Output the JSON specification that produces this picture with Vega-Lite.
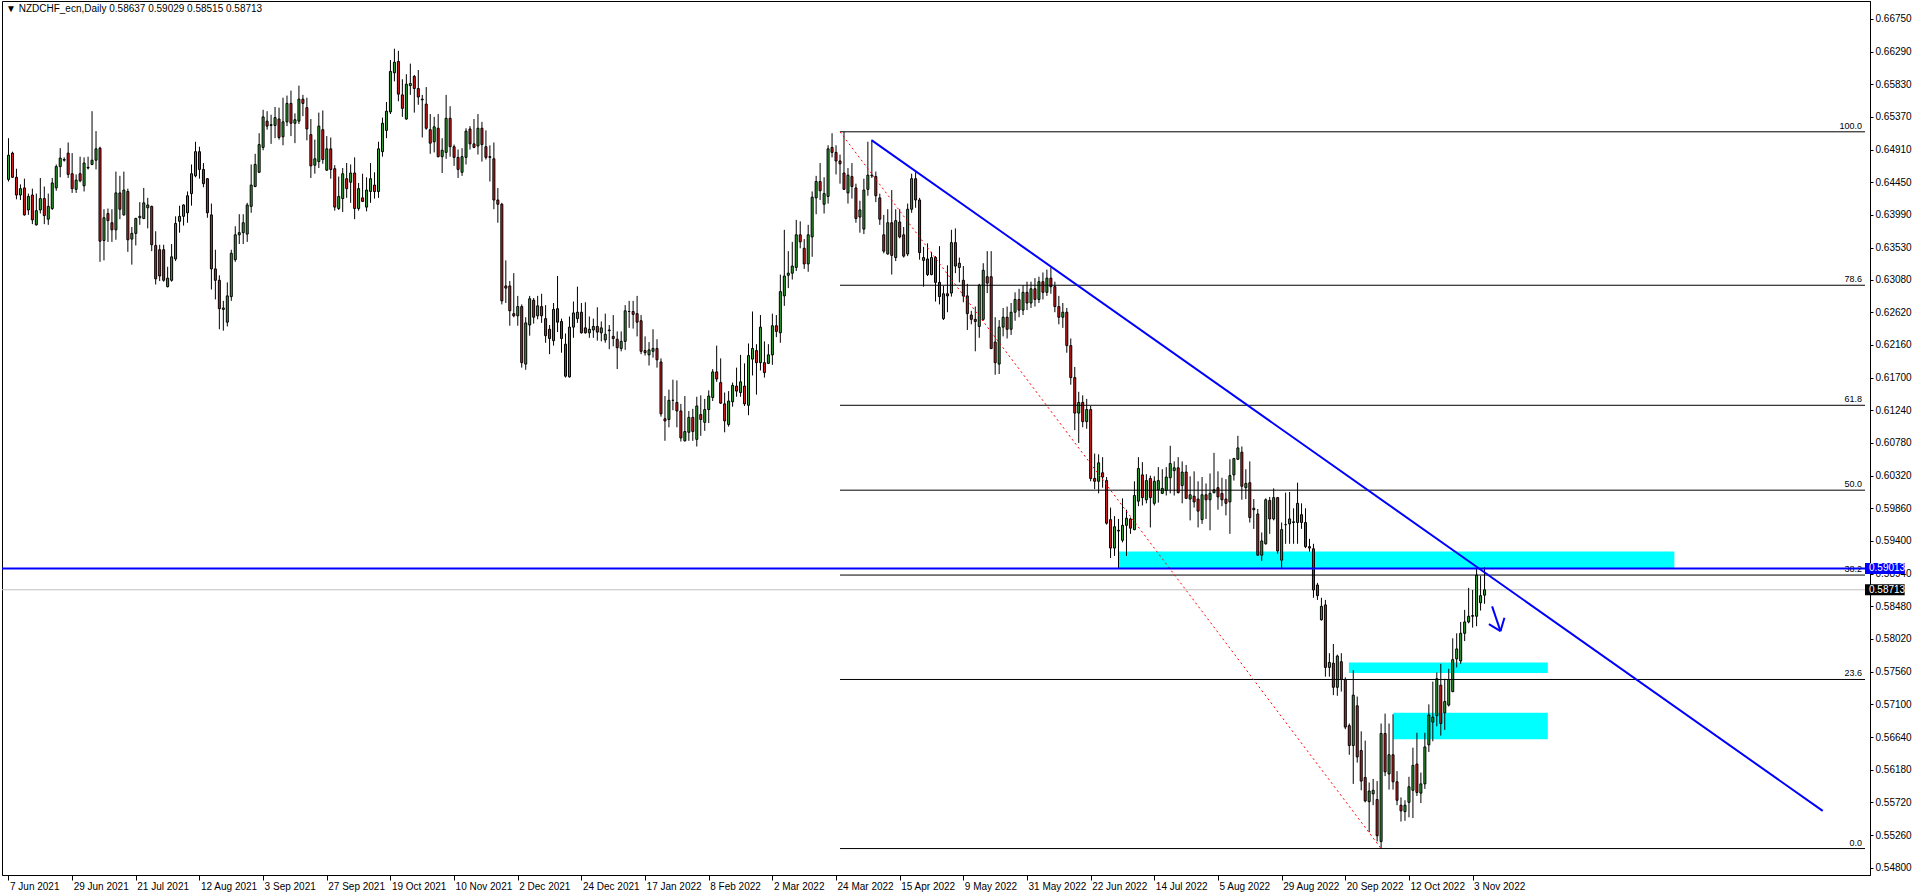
{
"$schema":"https://vega.github.io/schema/vega-lite/v6.json",
"width":1868,"height":874,
"autosize":{"type":"none"},
"padding":{"left":2,"top":1,"right":46,"bottom":21},
"background":"white",
"title":{"text":"▼ NZDCHF_ecn,Daily  0.58637 0.59029 0.58515 0.58713","anchor":"start","frame":"group","orient":"top","offset":-13,"dx":4,"fontSize":10,"font":"Liberation Sans","fontWeight":"normal","color":"black"},
"config":{"view":{"stroke":"black","strokeWidth":1},"axis":{"grid":false,"domainColor":"black","tickColor":"black","labelColor":"black","labelFont":"Liberation Sans","labelFontSize":10,"labelOverlap":false,"labelBound":false,"labelSeparation":0,"tickCount":60}},
"layer":[
{"data":{"values":[{"n":280,"n2":419.7,"p":0.59013,"p2":0.5925},{"n":337.9,"n2":387.9,"p":0.5754,"p2":0.5769},{"n":349.1,"n2":387.9,"p":0.5661,"p2":0.5698}]},
 "mark":{"type":"rect","color":"#00ffff"},
 "encoding":{"x":{"field":"n","type":"quantitative","title":null,"scale":{"domain":[0.625,467.625]}},"x2":{"field":"n2"},
 "y":{"field":"p","type":"quantitative","title":null,"scale":{"domain":[0.54768,0.66931]}},"y2":{"field":"p2"}}},
{"data":{"values":[{"p":0.58713}]},
 "mark":{"type":"rule","color":"#c0c0c0","strokeWidth":1},
 "encoding":{"y":{"field":"p","type":"quantitative","title":null,"scale":{"domain":[0.54768,0.66931]}}}},
{"data":{"values":[
{"o":0.6449,"h":0.6507,"l":0.6446,"c":0.6483},{"o":0.6486,"h":0.6488,"l":0.6451,"c":0.6452},{"o":0.6452,"h":0.6464,"l":0.6421,"c":0.6427},{"o":0.6427,"h":0.6442,"l":0.6420,"c":0.6436},{"o":0.6437,"h":0.6450,"l":0.6398,"c":0.6399},
{"o":0.6406,"h":0.6429,"l":0.6399,"c":0.6425},{"o":0.6427,"h":0.6436,"l":0.6386,"c":0.6392},{"o":0.6385,"h":0.6429,"l":0.6384,"c":0.6405},{"o":0.6406,"h":0.6451,"l":0.6401,"c":0.6422},{"o":0.6422,"h":0.6439,"l":0.6386,"c":0.6398},
{"o":0.6393,"h":0.6429,"l":0.6385,"c":0.6411},{"o":0.6408,"h":0.6451,"l":0.6406,"c":0.6444},{"o":0.6437,"h":0.6470,"l":0.6433,"c":0.6467},{"o":0.6467,"h":0.6493,"l":0.6452,"c":0.6479},{"o":0.6476,"h":0.6480,"l":0.6474,"c":0.6477},
{"o":0.6486,"h":0.6501,"l":0.6451,"c":0.6456},{"o":0.6457,"h":0.6486,"l":0.6430,"c":0.6436},{"o":0.6435,"h":0.6456,"l":0.6430,"c":0.6448},{"o":0.6457,"h":0.6481,"l":0.6445,"c":0.6447},{"o":0.6440,"h":0.6480,"l":0.6432,"c":0.6472},
{"o":0.6466,"h":0.6481,"l":0.6463,"c":0.6465},{"o":0.6470,"h":0.6545,"l":0.6469,"c":0.6476},{"o":0.6476,"h":0.6517,"l":0.6463,"c":0.6492},{"o":0.6493,"h":0.6495,"l":0.6333,"c":0.6362},{"o":0.6363,"h":0.6407,"l":0.6335,"c":0.6395},
{"o":0.6401,"h":0.6408,"l":0.6361,"c":0.6391},{"o":0.6388,"h":0.6407,"l":0.6361,"c":0.6378},{"o":0.6378,"h":0.6460,"l":0.6364,"c":0.6430},{"o":0.6430,"h":0.6454,"l":0.6393,"c":0.6407},{"o":0.6399,"h":0.6460,"l":0.6398,"c":0.6434},
{"o":0.6432,"h":0.6436,"l":0.6347,"c":0.6364},{"o":0.6365,"h":0.6382,"l":0.6329,"c":0.6373},{"o":0.6373,"h":0.6395,"l":0.6356,"c":0.6394},{"o":0.6395,"h":0.6417,"l":0.6385,"c":0.6397},{"o":0.6394,"h":0.6437,"l":0.6393,"c":0.6416},
{"o":0.6409,"h":0.6423,"l":0.6380,"c":0.6413},{"o":0.6411,"h":0.6412,"l":0.6348,"c":0.6357},{"o":0.6356,"h":0.6376,"l":0.6301,"c":0.6309},{"o":0.6350,"h":0.6357,"l":0.6306,"c":0.6313},{"o":0.6350,"h":0.6357,"l":0.6305,"c":0.6307},
{"o":0.6298,"h":0.6326,"l":0.6297,"c":0.6310},{"o":0.6307,"h":0.6358,"l":0.6305,"c":0.6340},{"o":0.6337,"h":0.6397,"l":0.6334,"c":0.6387},{"o":0.6390,"h":0.6412,"l":0.6374,"c":0.6397},{"o":0.6397,"h":0.6414,"l":0.6384,"c":0.6413},
{"o":0.6402,"h":0.6432,"l":0.6388,"c":0.6426},{"o":0.6429,"h":0.6470,"l":0.6412,"c":0.6457},{"o":0.6454,"h":0.6502,"l":0.6452,"c":0.6488},{"o":0.6488,"h":0.6495,"l":0.6450,"c":0.6463},{"o":0.6463,"h":0.6472,"l":0.6438,"c":0.6443},
{"o":0.6450,"h":0.6451,"l":0.6395,"c":0.6402},{"o":0.6399,"h":0.6415,"l":0.6294,"c":0.6323},{"o":0.6323,"h":0.6350,"l":0.6280,"c":0.6307},{"o":0.6307,"h":0.6314,"l":0.6238,"c":0.6267},{"o":0.6266,"h":0.6278,"l":0.6236,"c":0.6268},
{"o":0.6248,"h":0.6304,"l":0.6242,"c":0.6285},{"o":0.6284,"h":0.6350,"l":0.6278,"c":0.6345},{"o":0.6336,"h":0.6383,"l":0.6333,"c":0.6371},{"o":0.6371,"h":0.6400,"l":0.6358,"c":0.6374},{"o":0.6374,"h":0.6400,"l":0.6358,"c":0.6388},
{"o":0.6372,"h":0.6416,"l":0.6361,"c":0.6413},{"o":0.6411,"h":0.6470,"l":0.6402,"c":0.6441},{"o":0.6439,"h":0.6485,"l":0.6438,"c":0.6470},{"o":0.6459,"h":0.6514,"l":0.6458,"c":0.6498},{"o":0.6494,"h":0.6547,"l":0.6490,"c":0.6537},
{"o":0.6531,"h":0.6545,"l":0.6519,"c":0.6524},{"o":0.6525,"h":0.6540,"l":0.6499,"c":0.6526},{"o":0.6525,"h":0.6551,"l":0.6507,"c":0.6536},{"o":0.6534,"h":0.6550,"l":0.6505,"c":0.6508},{"o":0.6509,"h":0.6564,"l":0.6497,"c":0.6530},
{"o":0.6530,"h":0.6567,"l":0.6524,"c":0.6556},{"o":0.6556,"h":0.6574,"l":0.6510,"c":0.6528},{"o":0.6528,"h":0.6542,"l":0.6500,"c":0.6533},{"o":0.6531,"h":0.6581,"l":0.6527,"c":0.6562},{"o":0.6562,"h":0.6568,"l":0.6538,"c":0.6556},
{"o":0.6550,"h":0.6564,"l":0.6504,"c":0.6520},{"o":0.6512,"h":0.6534,"l":0.6451,"c":0.6468},{"o":0.6469,"h":0.6505,"l":0.6457,"c":0.6478},{"o":0.6474,"h":0.6543,"l":0.6465,"c":0.6524},{"o":0.6519,"h":0.6546,"l":0.6471,"c":0.6477},
{"o":0.6462,"h":0.6510,"l":0.6461,"c":0.6492},{"o":0.6492,"h":0.6508,"l":0.6450,"c":0.6463},{"o":0.6464,"h":0.6469,"l":0.6405,"c":0.6410},{"o":0.6408,"h":0.6453,"l":0.6406,"c":0.6425},{"o":0.6422,"h":0.6465,"l":0.6403,"c":0.6457},
{"o":0.6450,"h":0.6472,"l":0.6423,"c":0.6436},{"o":0.6445,"h":0.6470,"l":0.6416,"c":0.6458},{"o":0.6458,"h":0.6480,"l":0.6393,"c":0.6408},{"o":0.6408,"h":0.6444,"l":0.6405,"c":0.6436},{"o":0.6423,"h":0.6457,"l":0.6417,"c":0.6418},
{"o":0.6410,"h":0.6452,"l":0.6404,"c":0.6434},{"o":0.6432,"h":0.6472,"l":0.6416,"c":0.6450},{"o":0.6441,"h":0.6459,"l":0.6422,"c":0.6432},{"o":0.6432,"h":0.6502,"l":0.6423,"c":0.6492},{"o":0.6488,"h":0.6536,"l":0.6481,"c":0.6528},
{"o":0.6518,"h":0.6558,"l":0.6507,"c":0.6545},{"o":0.6544,"h":0.6617,"l":0.6541,"c":0.6601},{"o":0.6599,"h":0.6633,"l":0.6587,"c":0.6614},{"o":0.6615,"h":0.6630,"l":0.6559,"c":0.6569},{"o":0.6568,"h":0.6590,"l":0.6537,"c":0.6549},
{"o":0.6534,"h":0.6597,"l":0.6533,"c":0.6583},{"o":0.6581,"h":0.6612,"l":0.6568,"c":0.6584},{"o":0.6594,"h":0.6596,"l":0.6543,"c":0.6577},{"o":0.6577,"h":0.6603,"l":0.6554,"c":0.6565},{"o":0.6561,"h":0.6568,"l":0.6508,"c":0.6562},
{"o":0.6555,"h":0.6579,"l":0.6519,"c":0.6521},{"o":0.6519,"h":0.6541,"l":0.6485,"c":0.6500},{"o":0.6502,"h":0.6537,"l":0.6487,"c":0.6523},{"o":0.6521,"h":0.6541,"l":0.6480,"c":0.6481},{"o":0.6481,"h":0.6507,"l":0.6458,"c":0.6490},
{"o":0.6487,"h":0.6568,"l":0.6478,"c":0.6535},{"o":0.6535,"h":0.6552,"l":0.6481,"c":0.6495},{"o":0.6495,"h":0.6498,"l":0.6468,"c":0.6480},{"o":0.6480,"h":0.6491,"l":0.6451,"c":0.6463},{"o":0.6459,"h":0.6493,"l":0.6454,"c":0.6481},
{"o":0.6480,"h":0.6521,"l":0.6470,"c":0.6517},{"o":0.6520,"h":0.6524,"l":0.6491,"c":0.6499},{"o":0.6499,"h":0.6534,"l":0.6493,"c":0.6494},{"o":0.6496,"h":0.6541,"l":0.6484,"c":0.6521},{"o":0.6521,"h":0.6530,"l":0.6474,"c":0.6498},
{"o":0.6495,"h":0.6518,"l":0.6477,"c":0.6480},{"o":0.6481,"h":0.6497,"l":0.6446,"c":0.6480},{"o":0.6478,"h":0.6501,"l":0.6407,"c":0.6420},{"o":0.6420,"h":0.6437,"l":0.6388,"c":0.6414},{"o":0.6414,"h":0.6416,"l":0.6273,"c":0.6278},
{"o":0.6299,"h":0.6335,"l":0.6275,"c":0.6296},{"o":0.6299,"h":0.6306,"l":0.6243,"c":0.6264},{"o":0.6260,"h":0.6317,"l":0.6255,"c":0.6257},{"o":0.6257,"h":0.6285,"l":0.6243,"c":0.6270},{"o":0.6270,"h":0.6273,"l":0.6184,"c":0.6191},
{"o":0.6189,"h":0.6255,"l":0.6181,"c":0.6247},{"o":0.6244,"h":0.6285,"l":0.6229,"c":0.6281},{"o":0.6279,"h":0.6282,"l":0.6246,"c":0.6255},{"o":0.6257,"h":0.6285,"l":0.6252,"c":0.6271},{"o":0.6270,"h":0.6288,"l":0.6247,"c":0.6257},
{"o":0.6253,"h":0.6272,"l":0.6219,"c":0.6229},{"o":0.6238,"h":0.6244,"l":0.6203,"c":0.6225},{"o":0.6222,"h":0.6275,"l":0.6215,"c":0.6266},{"o":0.6267,"h":0.6313,"l":0.6234,"c":0.6248},{"o":0.6249,"h":0.6253,"l":0.6205,"c":0.6225},
{"o":0.6217,"h":0.6232,"l":0.6170,"c":0.6172},{"o":0.6171,"h":0.6256,"l":0.6170,"c":0.6241},{"o":0.6241,"h":0.6277,"l":0.6226,"c":0.6261},{"o":0.6253,"h":0.6298,"l":0.6247,"c":0.6262},{"o":0.6262,"h":0.6275,"l":0.6232,"c":0.6233},
{"o":0.6240,"h":0.6276,"l":0.6232,"c":0.6233},{"o":0.6233,"h":0.6256,"l":0.6226,"c":0.6238},{"o":0.6237,"h":0.6253,"l":0.6226,"c":0.6242},{"o":0.6242,"h":0.6269,"l":0.6222,"c":0.6234},{"o":0.6233,"h":0.6249,"l":0.6221,"c":0.6240},
{"o":0.6223,"h":0.6260,"l":0.6219,"c":0.6231},{"o":0.6236,"h":0.6244,"l":0.6210,"c":0.6237},{"o":0.6228,"h":0.6258,"l":0.6214,"c":0.6225},{"o":0.6224,"h":0.6235,"l":0.6182,"c":0.6212},{"o":0.6211,"h":0.6235,"l":0.6207,"c":0.6221},
{"o":0.6221,"h":0.6272,"l":0.6209,"c":0.6264},{"o":0.6263,"h":0.6278,"l":0.6240,"c":0.6263},{"o":0.6263,"h":0.6278,"l":0.6239,"c":0.6259},{"o":0.6260,"h":0.6285,"l":0.6228,"c":0.6248},{"o":0.6250,"h":0.6258,"l":0.6203,"c":0.6207},
{"o":0.6208,"h":0.6228,"l":0.6201,"c":0.6205},{"o":0.6202,"h":0.6220,"l":0.6187,"c":0.6209},{"o":0.6207,"h":0.6238,"l":0.6198,"c":0.6211},{"o":0.6211,"h":0.6224,"l":0.6184,"c":0.6195},{"o":0.6192,"h":0.6197,"l":0.6115,"c":0.6119},
{"o":0.6112,"h":0.6144,"l":0.6081,"c":0.6109},{"o":0.6111,"h":0.6153,"l":0.6100,"c":0.6138},{"o":0.6138,"h":0.6167,"l":0.6124,"c":0.6138},{"o":0.6135,"h":0.6166,"l":0.6100,"c":0.6123},{"o":0.6123,"h":0.6133,"l":0.6080,"c":0.6085},
{"o":0.6081,"h":0.6144,"l":0.6080,"c":0.6094},{"o":0.6093,"h":0.6123,"l":0.6081,"c":0.6114},{"o":0.6114,"h":0.6126,"l":0.6081,"c":0.6094},{"o":0.6083,"h":0.6143,"l":0.6073,"c":0.6130},{"o":0.6118,"h":0.6145,"l":0.6088,"c":0.6111},
{"o":0.6107,"h":0.6140,"l":0.6095,"c":0.6125},{"o":0.6125,"h":0.6152,"l":0.6106,"c":0.6144},{"o":0.6142,"h":0.6182,"l":0.6137,"c":0.6178},{"o":0.6178,"h":0.6215,"l":0.6164,"c":0.6168},{"o":0.6163,"h":0.6197,"l":0.6133,"c":0.6134},
{"o":0.6133,"h":0.6149,"l":0.6093,"c":0.6109},{"o":0.6104,"h":0.6151,"l":0.6101,"c":0.6137},{"o":0.6136,"h":0.6163,"l":0.6129,"c":0.6159},{"o":0.6158,"h":0.6184,"l":0.6143,"c":0.6151},{"o":0.6149,"h":0.6202,"l":0.6143,"c":0.6164},
{"o":0.6158,"h":0.6190,"l":0.6130,"c":0.6133},{"o":0.6131,"h":0.6218,"l":0.6117,"c":0.6201},{"o":0.6196,"h":0.6263,"l":0.6173,"c":0.6211},{"o":0.6208,"h":0.6217,"l":0.6146,"c":0.6191},{"o":0.6191,"h":0.6258,"l":0.6180,"c":0.6241},
{"o":0.6191,"h":0.6221,"l":0.6170,"c":0.6177},{"o":0.6190,"h":0.6217,"l":0.6189,"c":0.6202},{"o":0.6202,"h":0.6260,"l":0.6188,"c":0.6243},{"o":0.6243,"h":0.6258,"l":0.6227,"c":0.6235},{"o":0.6233,"h":0.6315,"l":0.6219,"c":0.6291},
{"o":0.6285,"h":0.6378,"l":0.6271,"c":0.6313},{"o":0.6314,"h":0.6348,"l":0.6296,"c":0.6317},{"o":0.6317,"h":0.6361,"l":0.6308,"c":0.6327},{"o":0.6325,"h":0.6392,"l":0.6320,"c":0.6371},{"o":0.6371,"h":0.6390,"l":0.6352,"c":0.6361},
{"o":0.6352,"h":0.6365,"l":0.6323,"c":0.6330},{"o":0.6330,"h":0.6385,"l":0.6319,"c":0.6371},{"o":0.6368,"h":0.6432,"l":0.6340,"c":0.6424},{"o":0.6423,"h":0.6454,"l":0.6400,"c":0.6446},{"o":0.6446,"h":0.6472,"l":0.6420,"c":0.6433},
{"o":0.6414,"h":0.6452,"l":0.6401,"c":0.6429},{"o":0.6425,"h":0.6497,"l":0.6415,"c":0.6492},{"o":0.6494,"h":0.6514,"l":0.6480,"c":0.6487},{"o":0.6487,"h":0.6497,"l":0.6456,"c":0.6475},{"o":0.6475,"h":0.6484,"l":0.6443,"c":0.6471},
{"o":0.6458,"h":0.6516,"l":0.6434,"c":0.6435},{"o":0.6430,"h":0.6465,"l":0.6415,"c":0.6455},{"o":0.6453,"h":0.6472,"l":0.6422,"c":0.6439},{"o":0.6437,"h":0.6443,"l":0.6388,"c":0.6394},{"o":0.6396,"h":0.6419,"l":0.6374,"c":0.6406},
{"o":0.6379,"h":0.6450,"l":0.6372,"c":0.6434},{"o":0.6435,"h":0.6502,"l":0.6426,"c":0.6455},{"o":0.6454,"h":0.6505,"l":0.6451,"c":0.6455},{"o":0.6453,"h":0.6460,"l":0.6417,"c":0.6426},{"o":0.6423,"h":0.6429,"l":0.6385,"c":0.6393},
{"o":0.6371,"h":0.6399,"l":0.6345,"c":0.6348},{"o":0.6344,"h":0.6407,"l":0.6343,"c":0.6388},{"o":0.6388,"h":0.6434,"l":0.6315,"c":0.6342},{"o":0.6339,"h":0.6407,"l":0.6334,"c":0.6391},{"o":0.6389,"h":0.6407,"l":0.6366,"c":0.6368},
{"o":0.6371,"h":0.6382,"l":0.6339,"c":0.6341},{"o":0.6344,"h":0.6415,"l":0.6341,"c":0.6407},{"o":0.6407,"h":0.6457,"l":0.6402,"c":0.6450},{"o":0.6450,"h":0.6459,"l":0.6409,"c":0.6420},{"o":0.6420,"h":0.6423,"l":0.6336,"c":0.6346},
{"o":0.6335,"h":0.6354,"l":0.6298,"c":0.6339},{"o":0.6337,"h":0.6359,"l":0.6313,"c":0.6315},{"o":0.6315,"h":0.6347,"l":0.6314,"c":0.6339},{"o":0.6339,"h":0.6341,"l":0.6277,"c":0.6304},{"o":0.6304,"h":0.6355,"l":0.6273,"c":0.6284},
{"o":0.6253,"h":0.6299,"l":0.6251,"c":0.6288},{"o":0.6288,"h":0.6328,"l":0.6262,"c":0.6285},{"o":0.6289,"h":0.6378,"l":0.6284,"c":0.6360},{"o":0.6360,"h":0.6380,"l":0.6317,"c":0.6327},{"o":0.6325,"h":0.6339,"l":0.6304,"c":0.6331},
{"o":0.6307,"h":0.6327,"l":0.6276,"c":0.6285},{"o":0.6285,"h":0.6302,"l":0.6237,"c":0.6260},{"o":0.6258,"h":0.6264,"l":0.6245,"c":0.6252},{"o":0.6252,"h":0.6270,"l":0.6207,"c":0.6249},{"o":0.6242,"h":0.6302,"l":0.6226,"c":0.6300},
{"o":0.6252,"h":0.6331,"l":0.6250,"c":0.6321},{"o":0.6312,"h":0.6348,"l":0.6289,"c":0.6303},{"o":0.6312,"h":0.6348,"l":0.6210,"c":0.6211},{"o":0.6220,"h":0.6255,"l":0.6174,"c":0.6191},{"o":0.6189,"h":0.6251,"l":0.6175,"c":0.6241},
{"o":0.6241,"h":0.6268,"l":0.6228,"c":0.6255},{"o":0.6255,"h":0.6270,"l":0.6225,"c":0.6238},{"o":0.6238,"h":0.6275,"l":0.6230,"c":0.6262},{"o":0.6262,"h":0.6290,"l":0.6250,"c":0.6280},{"o":0.6280,"h":0.6295,"l":0.6255,"c":0.6265},
{"o":0.6265,"h":0.6300,"l":0.6258,"c":0.6290},{"o":0.6290,"h":0.6305,"l":0.6265,"c":0.6275},{"o":0.6275,"h":0.6305,"l":0.6268,"c":0.6295},{"o":0.6295,"h":0.6310,"l":0.6270,"c":0.6280},{"o":0.6280,"h":0.6312,"l":0.6275,"c":0.6305},
{"o":0.6305,"h":0.6318,"l":0.6280,"c":0.6290},{"o":0.6290,"h":0.6322,"l":0.6285,"c":0.6310},{"o":0.6310,"h":0.6325,"l":0.6288,"c":0.6298},{"o":0.6298,"h":0.6305,"l":0.6262,"c":0.6270},{"o":0.6270,"h":0.6285,"l":0.6245,"c":0.6255},
{"o":0.6255,"h":0.6275,"l":0.6240,"c":0.6262},{"o":0.6262,"h":0.6268,"l":0.6205,"c":0.6215},{"o":0.6215,"h":0.6225,"l":0.6160,"c":0.6170},{"o":0.6170,"h":0.6185,"l":0.6096,"c":0.6120},{"o":0.6120,"h":0.6150,"l":0.6078,"c":0.6135},
{"o":0.6135,"h":0.6145,"l":0.6100,"c":0.6108},{"o":0.6108,"h":0.6140,"l":0.6098,"c":0.6125},{"o":0.6125,"h":0.6130,"l":0.6024,"c":0.6028},
{"o":0.6028,"h":0.6063,"l":0.6013,"c":0.6024},{"o":0.6024,"h":0.6062,"l":0.6007,"c":0.6050},{"o":0.6036,"h":0.6058,"l":0.6015,"c":0.6030},{"o":0.6025,"h":0.6030,"l":0.5963,"c":0.5965},{"o":0.5970,"h":0.5987,"l":0.5916,"c":0.5930},
{"o":0.5930,"h":0.5975,"l":0.5919,"c":0.5960},{"o":0.5954,"h":0.5971,"l":0.5902,"c":0.5955},{"o":0.5941,"h":0.6000,"l":0.5938,"c":0.5962},{"o":0.5962,"h":0.5984,"l":0.5919,"c":0.5972},{"o":0.5971,"h":0.5973,"l":0.5950,"c":0.5958},
{"o":0.5956,"h":0.6024,"l":0.5955,"c":0.6004},{"o":0.5996,"h":0.6058,"l":0.5989,"c":0.6042},{"o":0.6033,"h":0.6051,"l":0.5990,"c":0.6001},{"o":0.5998,"h":0.6034,"l":0.5993,"c":0.6025},{"o":0.6028,"h":0.6032,"l":0.5959,"c":0.6001},
{"o":0.5993,"h":0.6031,"l":0.5990,"c":0.6024},{"o":0.6012,"h":0.6044,"l":0.5994,"c":0.6025},{"o":0.6007,"h":0.6041,"l":0.6006,"c":0.6014},{"o":0.6011,"h":0.6044,"l":0.6004,"c":0.6030},{"o":0.6029,"h":0.6074,"l":0.6007,"c":0.6049},
{"o":0.6039,"h":0.6052,"l":0.6004,"c":0.6043},{"o":0.6043,"h":0.6058,"l":0.6007,"c":0.6008},{"o":0.6018,"h":0.6052,"l":0.5993,"c":0.6037},{"o":0.6037,"h":0.6047,"l":0.5999,"c":0.6000},{"o":0.5999,"h":0.6031,"l":0.5969,"c":0.6005},
{"o":0.6003,"h":0.6038,"l":0.5987,"c":0.5995},{"o":0.5999,"h":0.6024,"l":0.5959,"c":0.5982},{"o":0.5970,"h":0.6030,"l":0.5964,"c":0.6005},{"o":0.6005,"h":0.6021,"l":0.5971,"c":0.5998},{"o":0.5998,"h":0.6035,"l":0.5955,"c":0.6007},
{"o":0.6008,"h":0.6064,"l":0.6007,"c":0.6012},{"o":0.6015,"h":0.6038,"l":0.5984,"c":0.6002},{"o":0.6007,"h":0.6029,"l":0.5989,"c":0.5998},{"o":0.5999,"h":0.6027,"l":0.5976,"c":0.5993},{"o":0.5995,"h":0.6055,"l":0.5950,"c":0.6032},
{"o":0.6033,"h":0.6057,"l":0.6025,"c":0.6056},{"o":0.6055,"h":0.6088,"l":0.6054,"c":0.6071},{"o":0.6065,"h":0.6073,"l":0.5998,"c":0.6017},{"o":0.6015,"h":0.6041,"l":0.5999,"c":0.6021},{"o":0.6022,"h":0.6052,"l":0.5966,"c":0.5973},
{"o":0.5986,"h":0.5999,"l":0.5957,"c":0.5984},{"o":0.5978,"h":0.5985,"l":0.5919,"c":0.5920},{"o":0.5920,"h":0.5952,"l":0.5912,"c":0.5940},{"o":0.5936,"h":0.6000,"l":0.5935,"c":0.5998},{"o":0.5997,"h":0.6002,"l":0.5950,"c":0.5971},
{"o":0.5971,"h":0.6014,"l":0.5969,"c":0.6001},{"o":0.6001,"h":0.6002,"l":0.5922,"c":0.5926},{"o":0.5913,"h":0.5966,"l":0.5902,"c":0.5956},{"o":0.5963,"h":0.6008,"l":0.5936,"c":0.5963},{"o":0.5964,"h":0.6009,"l":0.5936,"c":0.5971},
{"o":0.5966,"h":0.5986,"l":0.5936,"c":0.5967},{"o":0.5966,"h":0.6022,"l":0.5936,"c":0.5993},{"o":0.5977,"h":0.5993,"l":0.5957,"c":0.5966},{"o":0.5966,"h":0.5986,"l":0.5930,"c":0.5932},{"o":0.5932,"h":0.5943,"l":0.5925,"c":0.5930},
{"o":0.5929,"h":0.5936,"l":0.5860,"c":0.5871},{"o":0.5878,"h":0.5881,"l":0.5857,"c":0.5863},{"o":0.5829,"h":0.5860,"l":0.5828,"c":0.5848},{"o":0.5850,"h":0.5857,"l":0.5749,"c":0.5762},{"o":0.5762,"h":0.5782,"l":0.5749,"c":0.5769},
{"o":0.5768,"h":0.5795,"l":0.5723,"c":0.5734},{"o":0.5734,"h":0.5780,"l":0.5722,"c":0.5778},{"o":0.5770,"h":0.5782,"l":0.5728,"c":0.5745},{"o":0.5745,"h":0.5748,"l":0.5675,"c":0.5678},{"o":0.5680,"h":0.5683,"l":0.5639,"c":0.5652},
{"o":0.5652,"h":0.5758,"l":0.5598,"c":0.5723},{"o":0.5708,"h":0.5721,"l":0.5628,"c":0.5636},{"o":0.5645,"h":0.5672,"l":0.5589,"c":0.5602},{"o":0.5607,"h":0.5659,"l":0.5572,"c":0.5574},{"o":0.5573,"h":0.5600,"l":0.5530,"c":0.5588},
{"o":0.5584,"h":0.5605,"l":0.5568,"c":0.5589},{"o":0.5576,"h":0.5602,"l":0.5517,"c":0.5525},{"o":0.5517,"h":0.5683,"l":0.5507,"c":0.5669},{"o":0.5669,"h":0.5697,"l":0.5609,"c":0.5615},{"o":0.5612,"h":0.5683,"l":0.5590,"c":0.5639},
{"o":0.5639,"h":0.5696,"l":0.5590,"c":0.5601},{"o":0.5601,"h":0.5616,"l":0.5568,"c":0.5575},{"o":0.5568,"h":0.5579,"l":0.5545,"c":0.5560},{"o":0.5559,"h":0.5575,"l":0.5546,"c":0.5568},{"o":0.5572,"h":0.5608,"l":0.5551,"c":0.5594},
{"o":0.5589,"h":0.5649,"l":0.5550,"c":0.5624},{"o":0.5626,"h":0.5670,"l":0.5581,"c":0.5586},{"o":0.5585,"h":0.5614,"l":0.5571,"c":0.5598},{"o":0.5598,"h":0.5670,"l":0.5591,"c":0.5650},{"o":0.5653,"h":0.5710,"l":0.5643,"c":0.5695},
{"o":0.5685,"h":0.5742,"l":0.5658,"c":0.5692},{"o":0.5694,"h":0.5755,"l":0.5679,"c":0.5746},{"o":0.5737,"h":0.5767,"l":0.5666,"c":0.5683},{"o":0.5698,"h":0.5746,"l":0.5674,"c":0.5714},{"o":0.5709,"h":0.5760,"l":0.5707,"c":0.5745},
{"o":0.5728,"h":0.5803,"l":0.5727,"c":0.5773},{"o":0.5774,"h":0.5810,"l":0.5762,"c":0.5788},{"o":0.5771,"h":0.5826,"l":0.5767,"c":0.5810},{"o":0.5810,"h":0.5843,"l":0.5799,"c":0.5826},{"o":0.5826,"h":0.5874,"l":0.5824,"c":0.5834},
{"o":0.5834,"h":0.5871,"l":0.5818,"c":0.5835},{"o":0.5834,"h":0.5901,"l":0.5820,"c":0.5892},{"o":0.5853,"h":0.5891,"l":0.5842,"c":0.5863},{"o":0.58637,"h":0.59029,"l":0.58515,"c":0.58713}
]},
 "transform":[{"window":[{"op":"row_number","as":"n"}]}],
 "layer":[
  {"mark":{"type":"rule","color":"black","strokeWidth":1},
   "encoding":{
    "x":{"field":"n","type":"quantitative","title":null,"scale":{"domain":[0.625,467.625]},
      "axis":{"orient":"bottom","title":null,"tickCount":60,"values":[1,17,33,49,65,81,97,113,129,145,161,177,193,209,225,241,257,273,289,305,321,337,353,369],
      "labelExpr":"['7 Jun 2021','29 Jun 2021','21 Jul 2021','12 Aug 2021','3 Sep 2021','27 Sep 2021','19 Oct 2021','10 Nov 2021','2 Dec 2021','24 Dec 2021','17 Jan 2022','8 Feb 2022','2 Mar 2022','24 Mar 2022','15 Apr 2022','9 May 2022','31 May 2022','22 Jun 2022','14 Jul 2022','5 Aug 2022','29 Aug 2022','20 Sep 2022','12 Oct 2022','3 Nov 2022'][round((datum.value-1)/16)]",
      "tickSize":5,"labelAlign":"left","labelOffset":1,"labelPadding":1,"labelBaseline":"top","labelFlush":false,"labelOverlap":false}},
    "y":{"field":"l","type":"quantitative","title":null,"scale":{"domain":[0.54768,0.66931]},
      "axis":{"orient":"right","title":null,"tickCount":60,"values":[0.548,0.5526,0.5572,0.5618,0.5664,0.571,0.5756,0.5802,0.5848,0.5894,0.594,0.5986,0.6032,0.6078,0.6124,0.617,0.6216,0.6262,0.6308,0.6353,0.6399,0.6445,0.6491,0.6537,0.6583,0.6629,0.6675],
      "format":".5f","tickSize":3,"labelPadding":2,"labelBaseline":"middle","labelFlush":false,"labelOverlap":false}},
    "y2":{"field":"h"}}},
  {"mark":{"type":"bar","size":2,"stroke":"black","strokeWidth":1},
   "encoding":{
    "x":{"field":"n","type":"quantitative","title":null,"scale":{"domain":[0.625,467.625]}},
    "y":{"field":"o","type":"quantitative","title":null,"scale":{"domain":[0.54768,0.66931]}},
    "y2":{"field":"c"},
    "fill":{"condition":{"test":"datum.c >= datum.o","value":"#32a532"},"value":"#dd1c1c"}}}
 ]},
{"data":{"values":[{"lv":"100.0","p":0.6516},{"lv":"78.6","p":0.6300},{"lv":"61.8","p":0.6131},{"lv":"50.0","p":0.60115},{"lv":"38.2","p":0.5892},{"lv":"23.6","p":0.5745},{"lv":"0.0","p":0.5507}]},
 "layer":[
  {"mark":{"type":"rule","color":"black","strokeWidth":1},
   "encoding":{"x":{"datum":210,"type":"quantitative","title":null,"scale":{"domain":[0.625,467.625]}},"x2":{"datum":467.625},
   "y":{"field":"p","type":"quantitative","title":null,"scale":{"domain":[0.54768,0.66931]}}}},
  {"mark":{"type":"text","align":"right","baseline":"bottom","dx":-3,"dy":-1,"fontSize":9,"font":"Liberation Sans","color":"black"},
   "encoding":{"x":{"datum":467.625,"type":"quantitative","title":null,"scale":{"domain":[0.625,467.625]}},
   "y":{"field":"p","type":"quantitative","title":null,"scale":{"domain":[0.54768,0.66931]}},"text":{"field":"lv"}}}
 ]},
{"data":{"values":[{"n":210,"p":0.6516},{"n":346,"p":0.5507}]},
 "mark":{"type":"line","color":"#ff0000","strokeWidth":1,"strokeDash":[2,3]},
 "encoding":{"x":{"field":"n","type":"quantitative","title":null,"scale":{"domain":[0.625,467.625]}},
 "y":{"field":"p","type":"quantitative","title":null,"scale":{"domain":[0.54768,0.66931]}}}},
{"data":{"values":[{"p":0.59013}]},
 "mark":{"type":"rule","color":"#0000ff","strokeWidth":2},
 "encoding":{"y":{"field":"p","type":"quantitative","title":null,"scale":{"domain":[0.54768,0.66931]}}}},
{"data":{"values":[{"n":218,"p":0.6504},{"n":457,"p":0.5560}]},
 "mark":{"type":"line","color":"#0000ff","strokeWidth":2},
 "encoding":{"x":{"field":"n","type":"quantitative","title":null,"scale":{"domain":[0.625,467.625]}},
 "y":{"field":"p","type":"quantitative","title":null,"scale":{"domain":[0.54768,0.66931]}}}},
{"data":{"values":[{"s":"a","k":1,"n":373.9,"p":0.5848},{"s":"a","k":2,"n":376,"p":0.5813},{"s":"b","k":1,"n":373.1,"p":0.5823},{"s":"b","k":2,"n":376,"p":0.5813},{"s":"c","k":1,"n":377,"p":0.5832},{"s":"c","k":2,"n":376,"p":0.5813}]},
 "mark":{"type":"line","color":"#0000ff","strokeWidth":2},
 "encoding":{"x":{"field":"n","type":"quantitative","title":null,"scale":{"domain":[0.625,467.625]}},
 "y":{"field":"p","type":"quantitative","title":null,"scale":{"domain":[0.54768,0.66931]}},
 "detail":{"field":"s"},"order":{"field":"k"}}},
{"data":{"values":[{"p":0.59013,"bg":"blue"},{"p":0.58713,"bg":"black"}]},
 "layer":[
  {"mark":{"type":"bar","size":11},
   "encoding":{"x":{"datum":467.625,"type":"quantitative","title":null,"scale":{"domain":[0.625,467.625]}},"x2":{"datum":477.6},
   "y":{"field":"p","type":"quantitative","title":null,"scale":{"domain":[0.54768,0.66931]}},
   "color":{"field":"bg","type":"nominal","scale":{"domain":["blue","black"],"range":["#0000ff","#000000"]},"legend":null}}},
  {"mark":{"type":"text","align":"left","baseline":"middle","dx":4,"fontSize":10,"font":"Liberation Sans","color":"white"},
   "encoding":{"x":{"datum":467.625,"type":"quantitative","title":null,"scale":{"domain":[0.625,467.625]}},
   "y":{"field":"p","type":"quantitative","title":null,"scale":{"domain":[0.54768,0.66931]}},
   "text":{"field":"p","type":"quantitative","format":".5f"}}}
 ]}
]
}
